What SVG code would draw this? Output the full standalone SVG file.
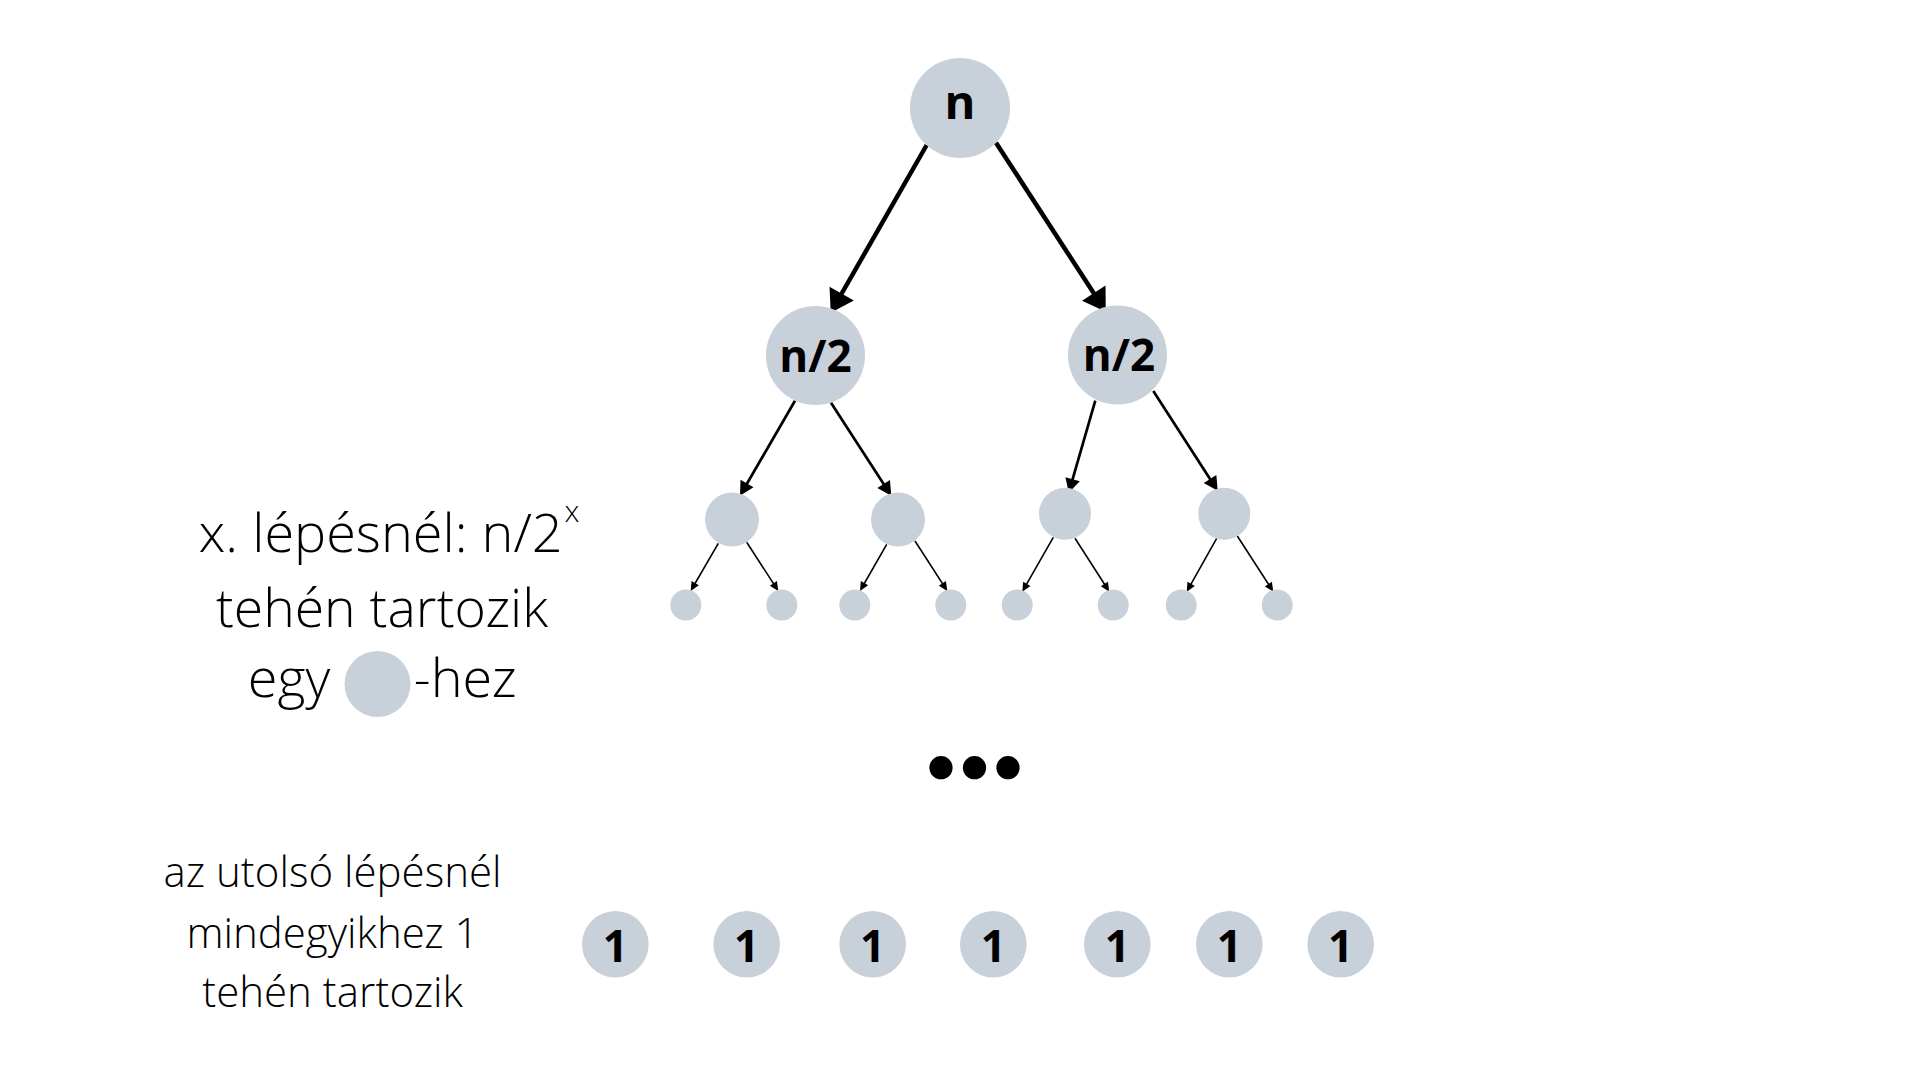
<svg xmlns="http://www.w3.org/2000/svg" width="1920" height="1080" viewBox="0 0 1920 1080">
<style>
.node{fill:#c8d0da}
.lbl{font-family:"Open Sans","Noto Sans","Liberation Sans",sans-serif;font-weight:700;fill:#000;text-anchor:middle}
.note{font-family:"Open Sans Light","Open Sans","Noto Sans","Liberation Sans",sans-serif;font-weight:300;fill:#000;text-anchor:middle}
.c1{stroke:#000;stroke-width:4.5;fill:none;marker-end:url(#ah1)}
.c2{stroke:#000;stroke-width:2.7;fill:none;marker-end:url(#ah2)}
.c3{stroke:#000;stroke-width:1.6;fill:none;marker-end:url(#ah3)}
</style>
<defs>
<marker id="ah1" markerUnits="userSpaceOnUse" markerWidth="30" markerHeight="30" refX="12" refY="0" viewBox="0 -15 24 30" orient="auto" overflow="visible"><path d="M0,-14 L22,0 L0,14 z" fill="#000"/></marker>
<marker id="ah2" markerUnits="userSpaceOnUse" markerWidth="20" markerHeight="20" refX="8" refY="0" viewBox="0 -10 16 20" orient="auto" overflow="visible"><path d="M0,-7.5 L14,0 L0,7.5 z" fill="#000"/></marker>
<marker id="ah3" markerUnits="userSpaceOnUse" markerWidth="12" markerHeight="12" refX="5" refY="0" viewBox="0 -6 10 12" orient="auto" overflow="visible"><path d="M0,-4.2 L9,0 L0,4.2 z" fill="#000"/></marker>
</defs>
<rect width="1920" height="1080" fill="#fff"/>

<g id="connectors">
<line class="c1" x1="926.7" y1="145" x2="835.7" y2="304"/>
<line class="c1" x1="996" y1="142.7" x2="1100.3" y2="303.3"/>
<line class="c2" x1="795" y1="400.7" x2="743" y2="490.5"/>
<line class="c2" x1="831" y1="402.7" x2="888" y2="490.7"/>
<line class="c2" x1="1095.3" y1="400.7" x2="1070.4" y2="486.9"/>
<line class="c2" x1="1153.3" y1="391" x2="1214.4" y2="485.7"/>
<line class="c3" x1="718.3" y1="543.3" x2="692.7" y2="587.5"/>
<line class="c3" x1="746.7" y1="542.3" x2="776.1" y2="587.6"/>
<line class="c3" x1="886.7" y1="544.3" x2="862" y2="587.5"/>
<line class="c3" x1="915" y1="541" x2="945.1" y2="587.6"/>
<line class="c3" x1="1053.3" y1="537.3" x2="1024.3" y2="588.2"/>
<line class="c3" x1="1075" y1="538.3" x2="1107.1" y2="588.3"/>
<line class="c3" x1="1216.7" y1="538.3" x2="1188.7" y2="588.2"/>
<line class="c3" x1="1237.3" y1="536" x2="1271.1" y2="588.3"/>
</g>

<g id="root"><circle class="node" cx="960" cy="108" r="50"/><text class="lbl" x="960" y="119" font-size="47">n</text></g>
<g id="half-left"><circle class="node" cx="815.5" cy="355.5" r="49.5"/><text class="lbl" x="815.5" y="371.5" font-size="44">n/2</text></g>
<g id="half-right"><circle class="node" cx="1117.5" cy="355" r="49.5"/><text class="lbl" x="1119" y="370.5" font-size="44">n/2</text></g>

<g id="l2a"><circle class="node" cx="732" cy="519.5" r="27"/></g>
<g id="l2b"><circle class="node" cx="898" cy="519.5" r="27"/></g>
<g id="l2c"><circle class="node" cx="1065" cy="513.7" r="26"/></g>
<g id="l2d"><circle class="node" cx="1224.3" cy="513.7" r="26"/></g>

<g id="l3a"><circle class="node" cx="685.8" cy="605" r="15.5"/></g>
<g id="l3b"><circle class="node" cx="781.8" cy="605" r="15.5"/></g>
<g id="l3c"><circle class="node" cx="854.8" cy="605" r="15.5"/></g>
<g id="l3d"><circle class="node" cx="950.8" cy="605" r="15.5"/></g>
<g id="l3e"><circle class="node" cx="1017.2" cy="605" r="15.5"/></g>
<g id="l3f"><circle class="node" cx="1113.2" cy="605" r="15.5"/></g>
<g id="l3g"><circle class="node" cx="1181.2" cy="605" r="15.5"/></g>
<g id="l3h"><circle class="node" cx="1277.2" cy="605" r="15.5"/></g>

<g id="ellipsis" fill="#000">
<circle cx="941" cy="767.7" r="11.6"/>
<circle cx="974.5" cy="767.7" r="11.6"/>
<circle cx="1008" cy="767.7" r="11.6"/>
</g>

<g id="leaf1"><circle class="node" cx="615.3" cy="944.3" r="33.3"/><text class="lbl" x="615.3" y="961.7" font-size="44">1</text></g>
<g id="leaf2"><circle class="node" cx="746.7" cy="944.3" r="33.3"/><text class="lbl" x="746.7" y="961.7" font-size="44">1</text></g>
<g id="leaf3"><circle class="node" cx="872.7" cy="944.3" r="33.3"/><text class="lbl" x="872.7" y="961.7" font-size="44">1</text></g>
<g id="leaf4"><circle class="node" cx="993.3" cy="944.3" r="33.3"/><text class="lbl" x="993.3" y="961.7" font-size="44">1</text></g>
<g id="leaf5"><circle class="node" cx="1117.3" cy="944.3" r="33.3"/><text class="lbl" x="1117.3" y="961.7" font-size="44">1</text></g>
<g id="leaf6"><circle class="node" cx="1229.3" cy="944.3" r="33.3"/><text class="lbl" x="1229.3" y="961.7" font-size="44">1</text></g>
<g id="leaf7"><circle class="node" cx="1340.7" cy="944.3" r="33.3"/><text class="lbl" x="1340.7" y="961.7" font-size="44">1</text></g>

<g id="note-step">
<text class="note" x="389" y="551.7" font-size="54">x. lépésnél: n/2<tspan font-size="30" dx="2" dy="-30">x</tspan></text>
<text class="note" x="382" y="626.7" font-size="53.5">tehén tartozik</text>
<text class="note" x="289" y="696.7" font-size="54">egy</text>
<circle class="node" cx="377.5" cy="684" r="33"/>
<text class="note" x="465" y="696.7" font-size="54">-hez</text>
</g>

<g id="note-last">
<text class="note" x="332.5" y="887.3" font-size="42">az utolsó lépésnél</text>
<text class="note" x="332.5" y="948" font-size="42">mindegyikhez 1</text>
<text class="note" x="332.5" y="1006.7" font-size="42">tehén tartozik</text>
</g>
</svg>
